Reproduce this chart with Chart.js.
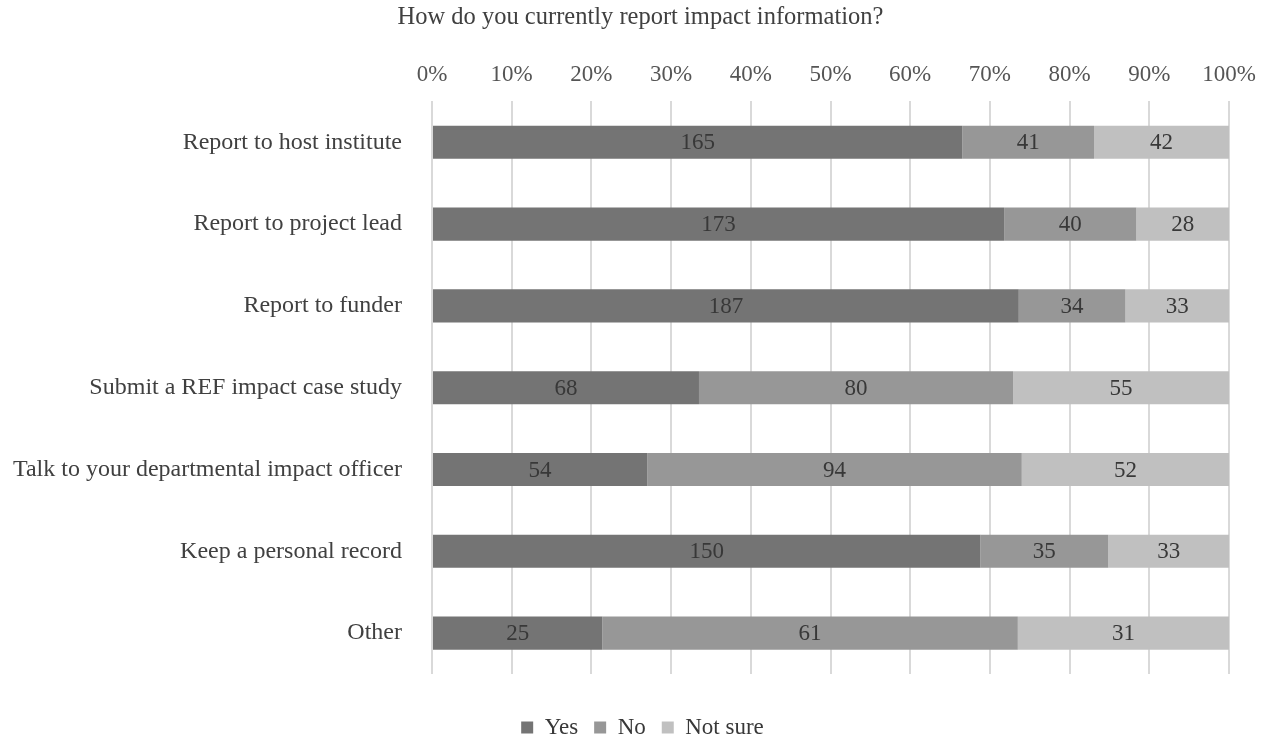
<!DOCTYPE html>
<html>
<head>
<meta charset="utf-8">
<title>How do you currently report impact information?</title>
<script src="https://cdn.jsdelivr.net/npm/chart.js@4/dist/chart.umd.min.js"></script>
<style>
  html, body { margin: 0; padding: 0; background: #ffffff; }
  #wrap { width: 1265px; height: 741px; position: relative; }
</style>
</head>
<body>
<div id="wrap"><canvas id="chart"></canvas></div>
<script>
// Survey answers (counts of respondents) per reporting route
const categories = [
  'Report to host institute',
  'Report to project lead',
  'Report to funder',
  'Submit a REF impact case study',
  'Talk to your departmental impact officer',
  'Keep a personal record',
  'Other'
];
const yesCounts     = [165, 173, 187, 68, 54, 150, 25];
const noCounts      = [41, 40, 34, 80, 94, 35, 61];
const notSureCounts = [42, 28, 33, 55, 52, 33, 31];
const seriesNames   = ['Yes', 'No', 'Not sure'];
const chartTitle    = 'How do you currently report impact information?';

const SERIF = '"Liberation Serif", "Times New Roman", serif';
const countSeries = [yesCounts, noCounts, notSureCounts];
const rowTotals = categories.map((_, i) => countSeries.reduce((s, arr) => s + arr[i], 0));
const toShare = arr => arr.map((v, i) => v / rowTotals[i] * 100);
const fills = ['#747474', '#979797', '#c0c0c0'];

// Writes each segment's count in the middle of its bar piece
const countLabels = {
  id: 'countLabels',
  afterDatasetsDraw(chart) {
    const ctx = chart.ctx;
    ctx.save();
    ctx.font = '23px ' + SERIF;
    ctx.fillStyle = '#383838';
    ctx.textAlign = 'center';
    ctx.textBaseline = 'middle';
    chart.data.datasets.forEach((ds, di) => {
      const meta = chart.getDatasetMeta(di);
      meta.data.forEach((el, i) => {
        const p = el.getProps(['x', 'y', 'base'], true);
        ctx.fillText(String(ds.counts[i]), (p.x + p.base) / 2, p.y + 1);
      });
    });
    ctx.restore();
  }
};

// Centres the title and legend over the bars rather than the whole canvas
const centreBlocks = {
  id: 'centreBlocks',
  afterLayout(chart) {
    const t = chart.titleBlock;
    if (t) { t.left += 26; t.right += 26; }
    const l = chart.legend;
    if (l) { l.left += 28; l.right += 28; l.top += 8; l.bottom += 8; }
  }
};

new Chart(document.getElementById('chart'), {
  type: 'bar',
  data: {
    labels: categories,
    datasets: seriesNames.map((name, k) => ({
      label: name,
      data: toShare(countSeries[k]),
      counts: countSeries[k],
      backgroundColor: fills[k],
      borderWidth: 0,
      barPercentage: 0.405,
      categoryPercentage: 1.0
    }))
  },
  options: {
    indexAxis: 'y',
    responsive: true,
    maintainAspectRatio: false,
    animation: false,
    layout: { padding: { left: 0, right: 36, top: 0, bottom: 0 } },
    plugins: {
      title: {
        display: true,
        text: chartTitle,
        color: '#404040',
        font: { family: SERIF, size: 24.5, weight: 'normal', lineHeight: 1.2 },
        padding: { top: 3, bottom: 4 }
      },
      legend: {
        position: 'bottom',
        labels: {
          boxWidth: 12,
          boxHeight: 12,
          padding: 16,
          color: '#383838',
          font: { family: SERIF, size: 23 }
        }
      },
      tooltip: { enabled: false }
    },
    scales: {
      x: {
        position: 'top',
        stacked: true,
        min: 0,
        max: 100,
        ticks: {
          stepSize: 10,
          padding: 13,
          color: '#555555',
          font: { family: SERIF, size: 23 },
          callback: v => v + '%'
        },
        grid: { color: '#d9d9d9', lineWidth: 2, drawTicks: false },
        border: { display: false },
        afterFit: s => { s.height = 65; s.paddingLeft = 0; s.paddingRight = 0; }
      },
      gap: {
        position: 'bottom',
        axis: 'x',
        display: true,
        ticks: { display: false },
        grid: { display: false, drawTicks: false },
        border: { display: false },
        afterFit: s => { s.height = 18; s.paddingLeft = 0; s.paddingRight = 0; }
      },
      y: {
        stacked: true,
        grid: { display: false },
        border: { display: false },
        ticks: {
          padding: 22,
          color: '#404040',
          font: { family: SERIF, size: 24 }
        },
        afterFit: s => { s.width = 432; }
      }
    }
  },
  plugins: [countLabels, centreBlocks]
});
</script>
</body>
</html>
